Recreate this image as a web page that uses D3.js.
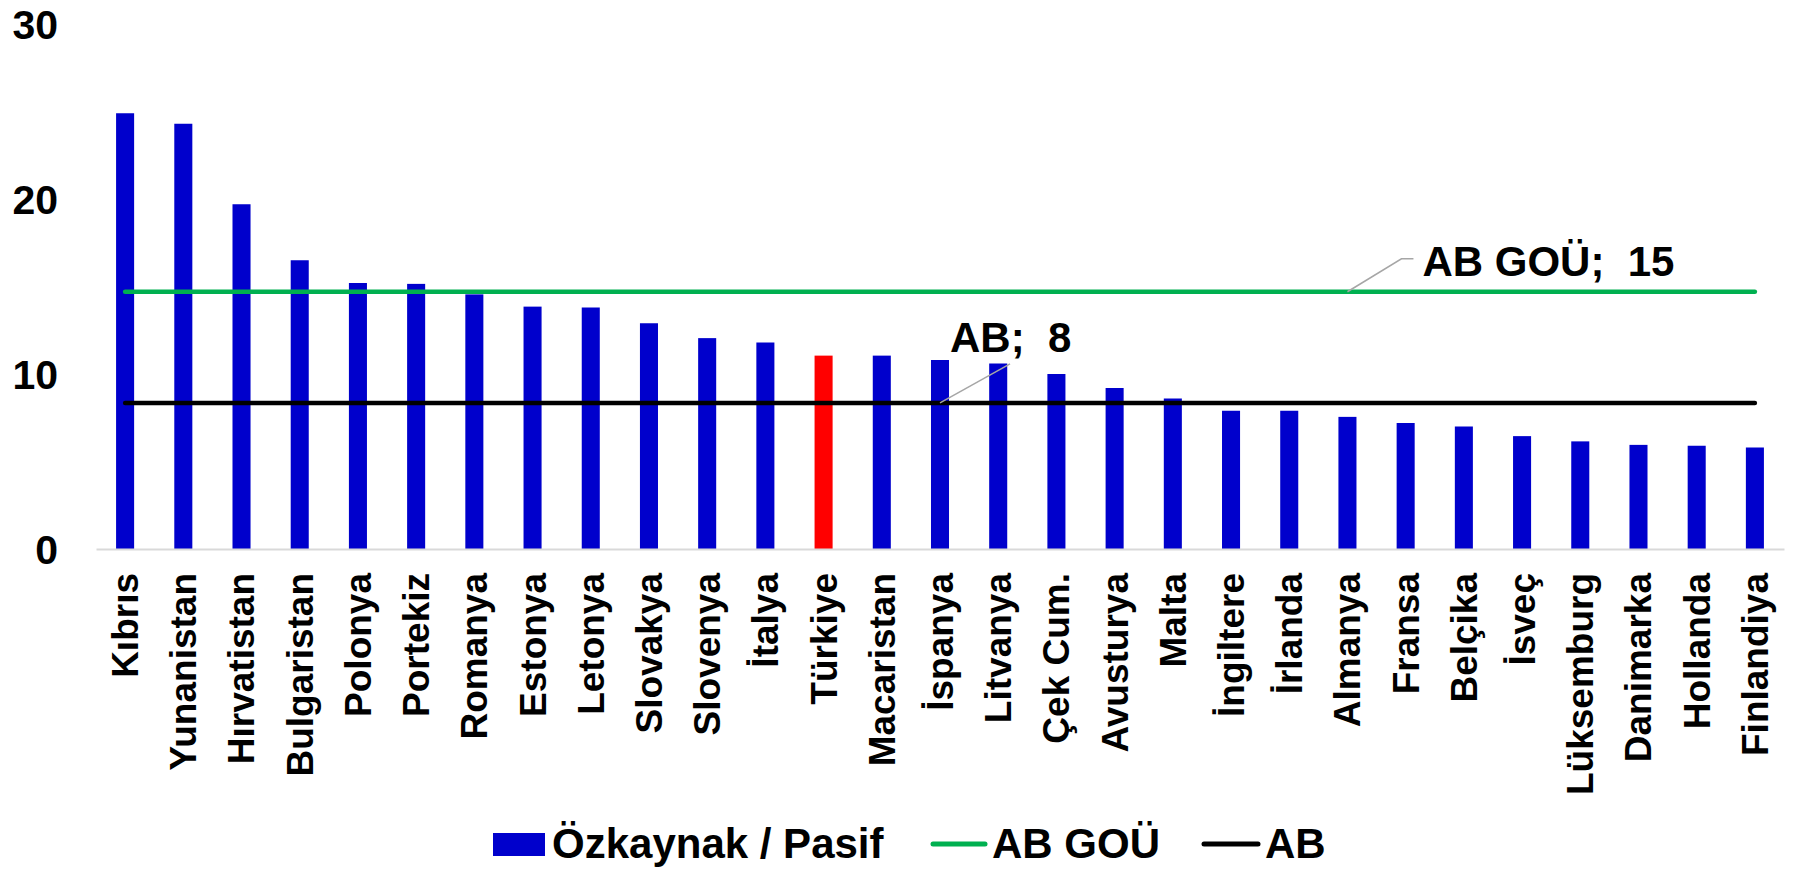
<!DOCTYPE html>
<html>
<head>
<meta charset="utf-8">
<script src="https://cdn.jsdelivr.net/npm/d3@7"></script>
<style>
  body { margin: 0; background: #fff; }
  text { font-family: "Liberation Sans", Arial, sans-serif; font-weight: bold; fill: #000; }
</style>
</head>
<body>
<div id="chart"></div>
<script>
// countries, sorted by equity / liabilities ratio
var countries = ["Kıbrıs", "Yunanistan", "Hırvatistan", "Bulgaristan", "Polonya", "Portekiz",
  "Romanya", "Estonya", "Letonya", "Slovakya", "Slovenya", "İtalya", "Türkiye", "Macaristan",
  "İspanya", "Litvanya", "Çek Cum.", "Avusturya", "Malta", "İngiltere", "İrlanda", "Almanya",
  "Fransa", "Belçika", "İsveç", "Lüksemburg", "Danimarka", "Hollanda", "Finlandiya"];

var ratios = [24.9, 24.3, 19.7, 16.5, 15.2, 15.15, 14.55, 13.85, 13.8, 12.9, 12.05, 11.8, 11.05,
  11.05, 10.8, 10.6, 10.0, 9.2, 8.6, 7.9, 7.9, 7.55, 7.2, 7.0, 6.45, 6.15, 5.95, 5.9, 5.8];

var highlight = "Türkiye";
var abGouValue = 14.7;   // AB GOÜ average
var abValue = 8.35;      // AB average
var yTicks = [0, 10, 20, 30];
var seriesNames = ["Özkaynak / Pasif", "AB GOÜ", "AB"];

var svgWidth = 1795;
var svgHeight = 869;

var svg = d3.select("#chart")
  .append("svg")
  .attr("width", svgWidth)
  .attr("height", svgHeight);

var xScale = d3.scaleBand()
  .domain(countries)
  .range([96, 1784])
  .paddingInner(0.69)
  .paddingOuter(0.345);

var yScale = d3.scaleLinear()
  .domain([0, 30])
  .range([549, 24]);

var cx = d => xScale(d) + xScale.bandwidth() / 2;

// y axis labels only
var leftAxis = d3.axisLeft(yScale).tickValues(yTicks).tickSize(0).tickPadding(8);
var yAxisG = svg.append("g")
  .attr("transform", "translate(66,0)")
  .call(leftAxis);
yAxisG.select(".domain").remove();
yAxisG.selectAll("text")
  .attr("dy", "0.35em")
  .style("font-size", "41px")
  .style("font-family", "Liberation Sans, Arial, sans-serif")
  .style("font-weight", "bold");

// bars
svg.append("g").selectAll("rect")
  .data(countries)
  .enter()
  .append("rect")
  .attr("x", d => xScale(d))
  .attr("y", (d, i) => yScale(ratios[i]))
  .attr("width", xScale.bandwidth())
  .attr("height", (d, i) => yScale(0) - yScale(ratios[i]))
  .attr("fill", d => d == highlight ? "#ff0000" : "#0000cc");

// x axis
var bottomAxis = d3.axisBottom(xScale).tickSize(0).tickSizeOuter(0);
var xAxisG = svg.append("g")
  .attr("transform", `translate(0, ${yScale(0)})`)
  .call(bottomAxis);
xAxisG.select(".domain")
  .attr("stroke", "#d9d9d9")
  .attr("stroke-width", 2);
xAxisG.selectAll("text")
  .attr("transform", "rotate(-90)")
  .attr("x", -24)
  .attr("y", 0)
  .attr("dy", "0.35em")
  .style("text-anchor", "end")
  .style("font-size", "37px")
  .style("font-family", "Liberation Sans, Arial, sans-serif")
  .style("font-weight", "bold");

// average lines
var line = d3.line()
  .x(d => cx(d.c))
  .y(d => yScale(d.v));

svg.append("path")
  .datum(countries.map(c => ({ c: c, v: abGouValue })))
  .attr("d", line)
  .attr("fill", "none")
  .attr("stroke", "#00b050")
  .attr("stroke-width", 4.5)
  .attr("stroke-linecap", "round");

svg.append("path")
  .datum(countries.map(c => ({ c: c, v: abValue })))
  .attr("d", line)
  .attr("fill", "none")
  .attr("stroke", "#000000")
  .attr("stroke-width", 4.5)
  .attr("stroke-linecap", "round");

// data labels with leader lines
var fmt = d3.format(".0f");

var gx = cx("Almanya"), gy = yScale(abGouValue);
svg.append("polyline")
  .attr("points", `${gx},${gy} ${gx + 54},${gy - 33} ${gx + 66},${gy - 33}`)
  .attr("fill", "none")
  .attr("stroke", "#a6a6a6")
  .attr("stroke-width", 1.5);
svg.append("text")
  .attr("x", gx + 75)
  .attr("y", gy - 16)
  .style("font-size", "42px")
  .style("white-space", "pre")
  .text(seriesNames[1] + ";  " + fmt(abGouValue));

var bx = cx("İspanya"), by = yScale(abValue);
svg.append("line")
  .attr("x1", bx).attr("y1", by)
  .attr("x2", bx + 70).attr("y2", by - 39)
  .attr("stroke", "#a6a6a6")
  .attr("stroke-width", 1.5);
svg.append("text")
  .attr("x", bx + 10)
  .attr("y", by - 51)
  .style("font-size", "42px")
  .style("white-space", "pre")
  .text(seriesNames[2] + ";  " + fmt(abValue));

// legend
var legend = svg.append("g");
legend.append("rect")
  .attr("x", 493).attr("y", 833)
  .attr("width", 52).attr("height", 23)
  .attr("fill", "#0000cc");
legend.append("text")
  .attr("x", 552).attr("y", 858)
  .style("font-size", "42px")
  .text(seriesNames[0]);

legend.append("line")
  .attr("x1", 933).attr("x2", 985)
  .attr("y1", 844).attr("y2", 844)
  .attr("stroke", "#00b050")
  .attr("stroke-width", 5)
  .attr("stroke-linecap", "round");
legend.append("text")
  .attr("x", 992).attr("y", 858)
  .style("font-size", "42px")
  .text(seriesNames[1]);

legend.append("line")
  .attr("x1", 1204).attr("x2", 1258)
  .attr("y1", 844).attr("y2", 844)
  .attr("stroke", "#000000")
  .attr("stroke-width", 5)
  .attr("stroke-linecap", "round");
legend.append("text")
  .attr("x", 1265).attr("y", 858)
  .style("font-size", "42px")
  .text(seriesNames[2]);
</script>
</body>
</html>
